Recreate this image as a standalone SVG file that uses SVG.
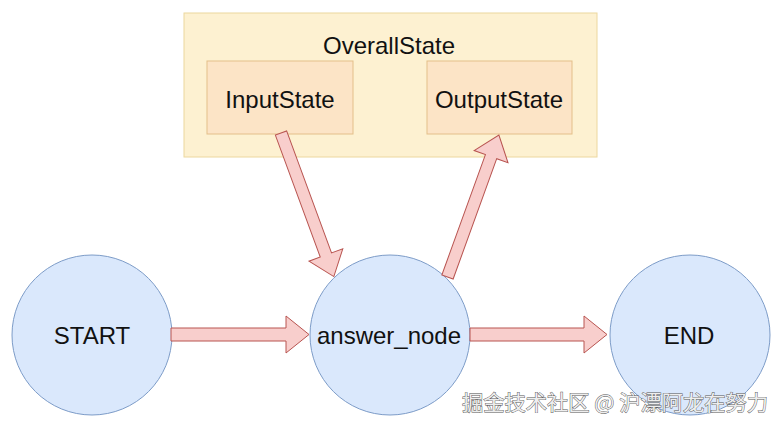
<svg xmlns="http://www.w3.org/2000/svg" width="780" height="428" viewBox="0 0 780 428">
<defs>
<style>
.lbl{font-family:"Liberation Sans",Arial,sans-serif;font-size:24px;fill:#111;text-anchor:middle;dominant-baseline:central}
.circ{fill:#dae8fc;stroke:#7d9cc8;stroke-width:1}
.inner{fill:#fce4c6;stroke:#e4bf8a;stroke-width:1}
.arrow{fill:#f8cecc;stroke:#b85450;stroke-width:1;stroke-linejoin:miter}
.wm{font-family:"Noto Sans CJK SC","Liberation Sans",sans-serif;font-size:21px;fill:#eeeeee;stroke:#555555;stroke-width:0.9;paint-order:stroke}
</style>
</defs>
<rect width="780" height="428" fill="#ffffff"/>
<g id="overall-state">
<rect x="184" y="13" width="413" height="144" fill="#fdf1d1" stroke="#ecd79e" stroke-width="1"/>
<text class="lbl" x="389" y="45">OverallState</text>
</g>
<g id="input-state">
<rect class="inner" x="207" y="61" width="146" height="73"/>
<text class="lbl" x="280" y="99">InputState</text>
</g>
<g id="output-state">
<rect class="inner" x="427" y="61" width="145" height="73"/>
<text class="lbl" x="499" y="99">OutputState</text>
</g>
<g id="start">
<ellipse class="circ" cx="92" cy="335" rx="80" ry="80"/>
<text class="lbl" x="92" y="335">START</text>
</g>
<g id="answer-node">
<ellipse class="circ" cx="390" cy="335" rx="80" ry="80"/>
<text class="lbl" x="389" y="335">answer_node</text>
</g>
<g id="end">
<ellipse class="circ" cx="690" cy="335" rx="80" ry="80"/>
<text class="lbl" x="689" y="335">END</text>
</g>
<g id="connectors">
<polygon class="arrow" transform="translate(171,334.5)" points="0,-6.5 115,-6.5 115,-18.5 138,0 115,18.5 115,6.5 0,6.5"/>
<polygon class="arrow" transform="translate(470,334.5)" points="0,-6.5 114,-6.5 114,-18.5 137,0 114,18.5 114,6.5 0,6.5"/>
<polygon class="arrow" transform="translate(281,133) rotate(69.8)" points="0,-6 130,-6 130,-18 153,0 130,18 130,6 0,6"/>
<polygon class="arrow" transform="translate(447.5,277) rotate(-70.1)" points="0,-6 128,-6 128,-18 151,0 128,18 128,6 0,6"/>
</g>
<text class="wm" x="462" y="410" textLength="306" lengthAdjust="spacingAndGlyphs">掘金技术社区 @ 沪漂阿龙在努力</text>
</svg>
